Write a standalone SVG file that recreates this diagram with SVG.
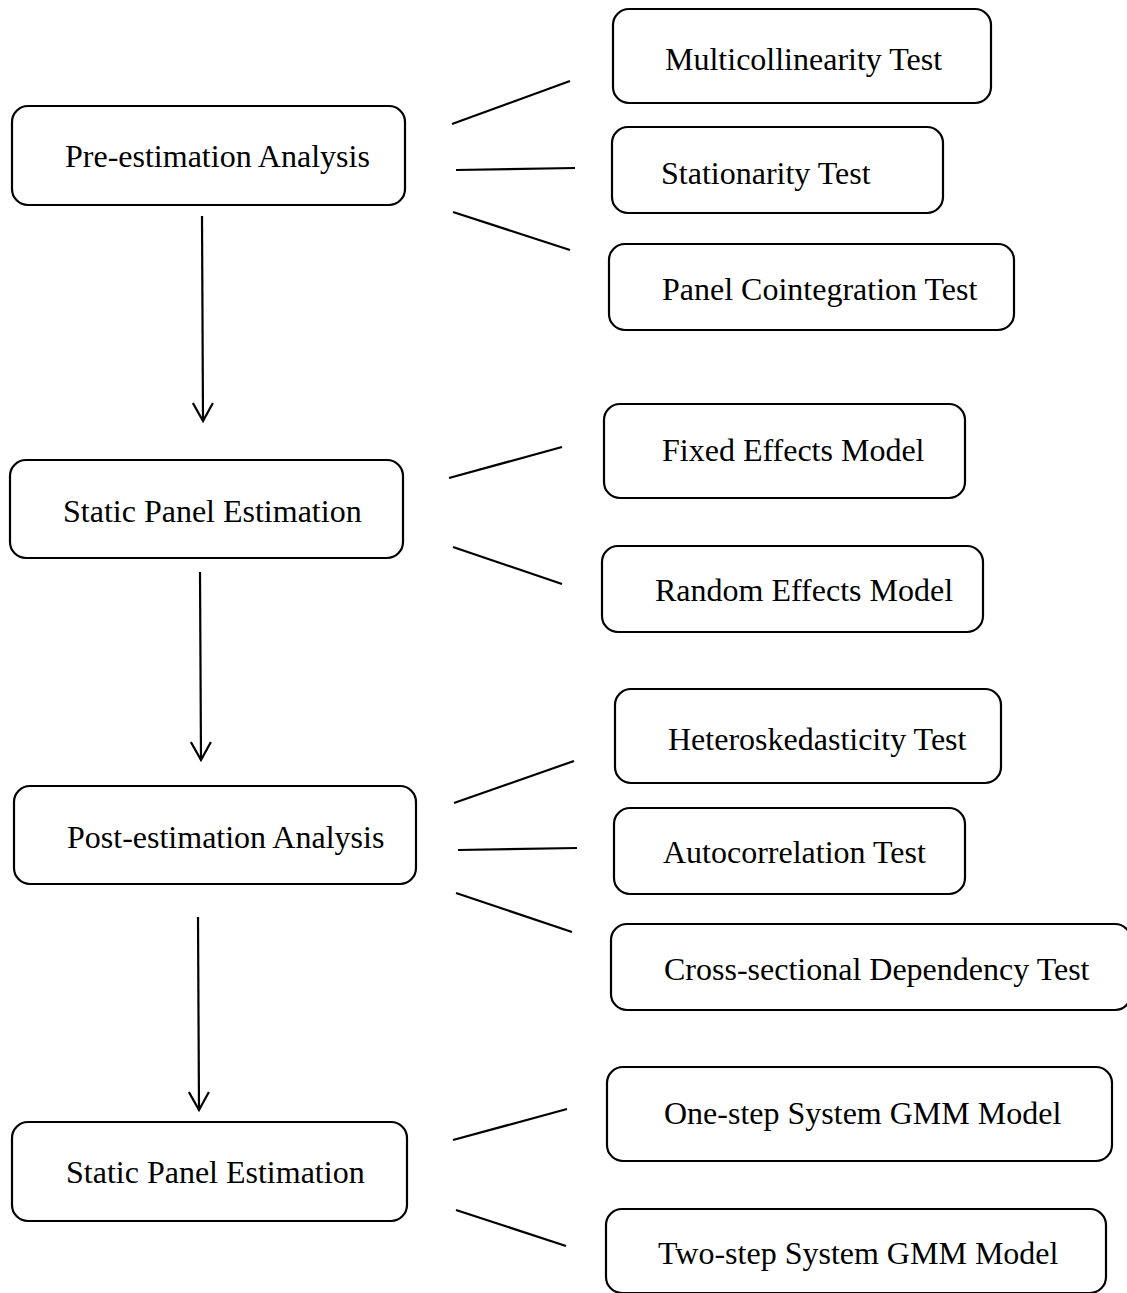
<svg xmlns="http://www.w3.org/2000/svg" width="1127" height="1293" viewBox="0 0 1127 1293">
<style>
.box{fill:#fff;stroke:#000;stroke-width:2.2}
.t{font-family:"Liberation Serif","Times New Roman",serif;font-size:32px;fill:#000}
.c{stroke:#000;stroke-width:2.2;fill:none}
</style>
<defs>
<marker id="ah" markerWidth="22" markerHeight="22" refX="20" refY="11" orient="auto" markerUnits="userSpaceOnUse" viewBox="0 0 22 22">
<polyline points="2,1 20,11 2,21" fill="none" stroke="#000" stroke-width="2.2"/>
</marker>
</defs>
<rect width="1127" height="1293" fill="#fff"/>
<g id="connectors">
<line class="c" x1="452" y1="124" x2="570" y2="81"/>
<line class="c" x1="456" y1="170" x2="575" y2="168"/>
<line class="c" x1="453" y1="212" x2="570" y2="250"/>
<line class="c" x1="202" y1="216" x2="203" y2="421" marker-end="url(#ah)"/>
<line class="c" x1="449" y1="478" x2="562" y2="447"/>
<line class="c" x1="453" y1="547" x2="562" y2="584"/>
<line class="c" x1="200" y1="572" x2="201" y2="760" marker-end="url(#ah)"/>
<line class="c" x1="454" y1="803" x2="574" y2="761"/>
<line class="c" x1="458" y1="850" x2="577" y2="848"/>
<line class="c" x1="456" y1="893" x2="572" y2="932"/>
<line class="c" x1="198" y1="917" x2="199" y2="1110" marker-end="url(#ah)"/>
<line class="c" x1="453" y1="1140" x2="567" y2="1109"/>
<line class="c" x1="456" y1="1210" x2="566" y2="1246"/>
</g>
<g id="pre-estimation">
<rect class="box" x="12" y="106" width="393" height="99" rx="16"/>
<text class="t" x="65" y="167">Pre-estimation Analysis</text>
</g>
<g id="multicollinearity">
<rect class="box" x="613" y="9" width="378" height="94" rx="16"/>
<text class="t" x="665" y="70">Multicollinearity Test</text>
</g>
<g id="stationarity">
<rect class="box" x="612" y="127" width="331" height="86" rx="16"/>
<text class="t" x="661" y="184">Stationarity Test</text>
</g>
<g id="cointegration">
<rect class="box" x="609" y="244" width="405" height="86" rx="16"/>
<text class="t" x="662" y="300">Panel Cointegration Test</text>
</g>
<g id="static-panel-1">
<rect class="box" x="10" y="460" width="393" height="98" rx="16"/>
<text class="t" x="63" y="522">Static Panel Estimation</text>
</g>
<g id="fixed-effects">
<rect class="box" x="604" y="404" width="361" height="94" rx="16"/>
<text class="t" x="662" y="461">Fixed Effects Model</text>
</g>
<g id="random-effects">
<rect class="box" x="602" y="546" width="381" height="86" rx="16"/>
<text class="t" x="655" y="601">Random Effects Model</text>
</g>
<g id="post-estimation">
<rect class="box" x="14" y="786" width="402" height="98" rx="16"/>
<text class="t" x="67" y="848">Post-estimation Analysis</text>
</g>
<g id="heteroskedasticity">
<rect class="box" x="615" y="689" width="386" height="94" rx="16"/>
<text class="t" x="668" y="750">Heteroskedasticity Test</text>
</g>
<g id="autocorrelation">
<rect class="box" x="614" y="808" width="351" height="86" rx="16"/>
<text class="t" x="663" y="863">Autocorrelation Test</text>
</g>
<g id="cross-sectional">
<rect class="box" x="611" y="924" width="520" height="86" rx="16"/>
<text class="t" x="664" y="980">Cross-sectional Dependency Test</text>
</g>
<g id="static-panel-2">
<rect class="box" x="12" y="1122" width="395" height="99" rx="16"/>
<text class="t" x="66" y="1183">Static Panel Estimation</text>
</g>
<g id="one-step-gmm">
<rect class="box" x="607" y="1067" width="505" height="94" rx="16"/>
<text class="t" x="664" y="1124">One-step System GMM Model</text>
</g>
<g id="two-step-gmm">
<rect class="box" x="606" y="1209" width="500" height="84" rx="16"/>
<text class="t" x="658" y="1264">Two-step System GMM Model</text>
</g>
</svg>
